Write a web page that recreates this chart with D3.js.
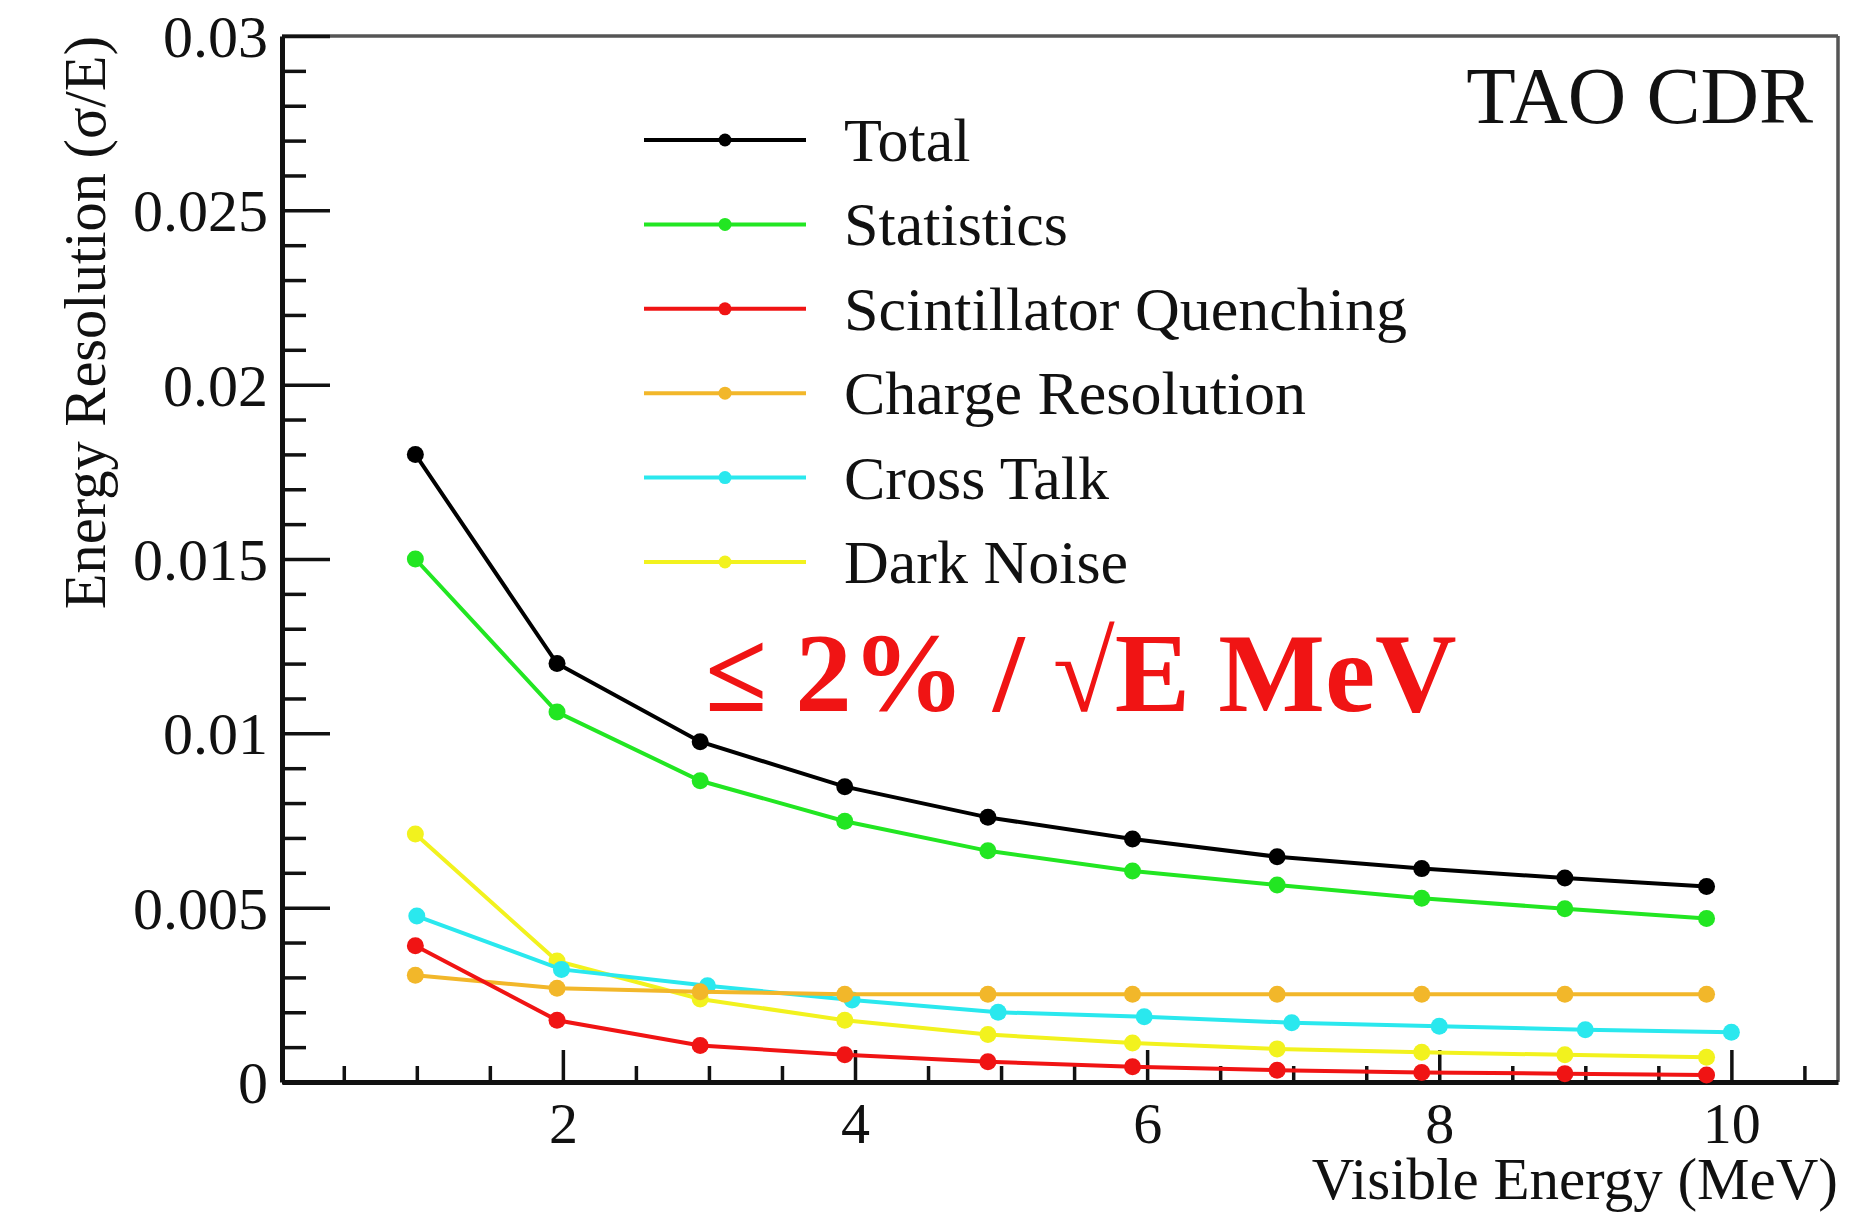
<!DOCTYPE html>
<html><head><meta charset="utf-8">
<script src="https://cdn.jsdelivr.net/npm/d3@7"></script>
<style>body{margin:0;background:#fff}svg{display:block}</style>
</head><body>
<svg id="c" width="1859" height="1213"></svg>
<script>
// ---- data ----
const seriesNames = ["Total","Statistics","Scintillator Quenching","Charge Resolution","Cross Talk","Dark Noise"];
const seriesColors = ["#000000","#22e622","#f01414","#f2b72a","#2ae8ee","#f2f21e"];
const energyMain = [0.99, 1.96, 2.94, 3.93, 4.91, 5.90, 6.89, 7.88, 8.86, 9.83];
const energyCross = [1.00, 1.99, 2.99, 3.98, 4.98, 5.98, 6.99, 8.00, 9.00, 10.00];
const total      = [0.0180, 0.0120, 0.00976, 0.00847, 0.00759, 0.00697, 0.00646, 0.00612, 0.00585, 0.00561];
const statistics = [0.0150, 0.01061, 0.00864, 0.00748, 0.00663, 0.00605, 0.00565, 0.00527, 0.00497, 0.00469];
const quenching  = [0.00391, 0.00177, 0.00105, 0.00078, 0.00058, 0.00044, 0.00034, 0.00027, 0.00024, 0.00020];
const charge     = [0.00306, 0.00269, 0.00259, 0.00252, 0.00252, 0.00252, 0.00252, 0.00252, 0.00252, 0.00252];
const crossTalk  = [0.00476, 0.00323, 0.00276, 0.00235, 0.00200, 0.00187, 0.00170, 0.00160, 0.00150, 0.00143];
const darkNoise  = [0.00711, 0.00347, 0.00238, 0.00177, 0.00136, 0.00112, 0.00095, 0.00085, 0.00078, 0.00071];
const xMajorTicks = [2, 4, 6, 8, 10];
const yMajorTicks = [0, 0.005, 0.01, 0.015, 0.02, 0.025, 0.03];
const yTickLabels = ["0","0.005","0.01","0.015","0.02","0.025","0.03"];

const seriesValues = [total, statistics, quenching, charge, crossTalk, darkNoise];
const seriesX = [energyMain, energyMain, energyMain, energyMain, energyCross, energyMain];

// ---- layout ----
const L = 282, R = 1838, T = 36, B = 1082;
const serif = "'Liberation Serif','Times New Roman',serif";
const svg = d3.select("#c");
const x = d3.scaleLinear().domain([0.077, 10.73]).range([L, R]);
const y = d3.scaleLinear().domain([0, 0.03]).range([B, T]);

// frame top/right
svg.append("line").attr("x1",L).attr("x2",R).attr("y1",T).attr("y2",T).attr("stroke","#555").attr("stroke-width",3.5);
svg.append("line").attr("x1",R).attr("x2",R).attr("y1",T).attr("y2",B).attr("stroke","#555").attr("stroke-width",3.5);

// minor ticks
const xMinor = d3.range(0.5, 10.51, 0.5).filter(v => !xMajorTicks.includes(v));
const yMinor = d3.range(0, 0.0301, 0.001).filter(v => Math.abs(v*200 - Math.round(v*200)) > 1e-6);
svg.append("g").attr("transform",`translate(0,${B})`)
  .call(d3.axisBottom(x).tickValues(xMinor).tickSizeInner(-16).tickSizeOuter(0).tickFormat(""))
  .call(g => g.select(".domain").remove())
  .selectAll("line").attr("stroke","#111").attr("stroke-width",3.5);
svg.append("g").attr("transform",`translate(${L},0)`)
  .call(d3.axisLeft(y).tickValues(yMinor).tickSizeInner(-24).tickSizeOuter(0).tickFormat(""))
  .call(g => g.select(".domain").remove())
  .selectAll("line").attr("stroke","#111").attr("stroke-width",3.5);

// major axes
const gx = svg.append("g").attr("transform",`translate(0,${B})`)
  .call(d3.axisBottom(x).tickValues(xMajorTicks).tickSizeInner(-32).tickSizeOuter(0).tickPadding(20).tickFormat(d3.format("d")));
gx.select(".domain").attr("stroke","#111").attr("stroke-width",5);
gx.selectAll("line").attr("stroke","#111").attr("stroke-width",3.5);
gx.selectAll("text").attr("font-family",serif).attr("font-size",58).attr("fill","#111");

const gy = svg.append("g").attr("transform",`translate(${L},0)`)
  .call(d3.axisLeft(y).tickValues(yMajorTicks).tickSizeInner(-48).tickSizeOuter(0).tickPadding(14).tickFormat((d,i)=>yTickLabels[i]));
gy.select(".domain").attr("stroke","#111").attr("stroke-width",5);
gy.selectAll("line").attr("stroke","#111").attr("stroke-width",3.5);
gy.selectAll("text").attr("font-family",serif).attr("font-size",60).attr("fill","#111").attr("dy","0.34em");

// axis titles
svg.append("text").attr("font-family",serif).attr("font-size",58.5).attr("fill","#111")
  .attr("text-anchor","end").attr("transform",`translate(105,${T}) rotate(-90)`)
  .text("Energy Resolution (\u03c3/E)");
svg.append("text").attr("font-family",serif).attr("font-size",59).attr("fill","#111")
  .attr("text-anchor","end").attr("x",1838).attr("y",1199)
  .text("Visible Energy (MeV)");

// series
const line = d3.line().x(d=>x(d[0])).y(d=>y(d[1]));
const drawOrder = [5,4,3,2,1,0];
drawOrder.forEach(i => {
  const pts = seriesX[i].map((e,k)=>[e, seriesValues[i][k]]);
  svg.append("path").datum(pts).attr("d",line).attr("fill","none")
    .attr("stroke",seriesColors[i]).attr("stroke-width",4);
  svg.append("g").selectAll("circle").data(pts).join("circle")
    .attr("cx",d=>x(d[0])).attr("cy",d=>y(d[1])).attr("r",8.5).attr("fill",seriesColors[i]);
});

// legend
const legY0 = 140, legDY = 84.4;
seriesNames.forEach((n,i)=>{
  const yy = legY0 + i*legDY;
  svg.append("line").attr("x1",644).attr("x2",806).attr("y1",yy).attr("y2",yy)
    .attr("stroke",seriesColors[i]).attr("stroke-width",4);
  svg.append("circle").attr("cx",725).attr("cy",yy).attr("r",6.5).attr("fill",seriesColors[i]);
  svg.append("text").attr("x",844).attr("y",yy).attr("dy","0.34em")
    .attr("font-family",serif).attr("font-size",62).attr("fill","#111").text(n);
});

// annotations
svg.append("text").attr("font-family",serif).attr("font-size",81).attr("fill","#111")
  .attr("text-anchor","end").attr("x",1813).attr("y",123).text("TAO CDR");
svg.append("text").attr("font-family",serif).attr("font-size",113).attr("font-weight","bold")
  .attr("fill","#f01414").attr("x",705).attr("y",711).text("\u2264 2% / \u221aE MeV");
</script>
</body></html>
